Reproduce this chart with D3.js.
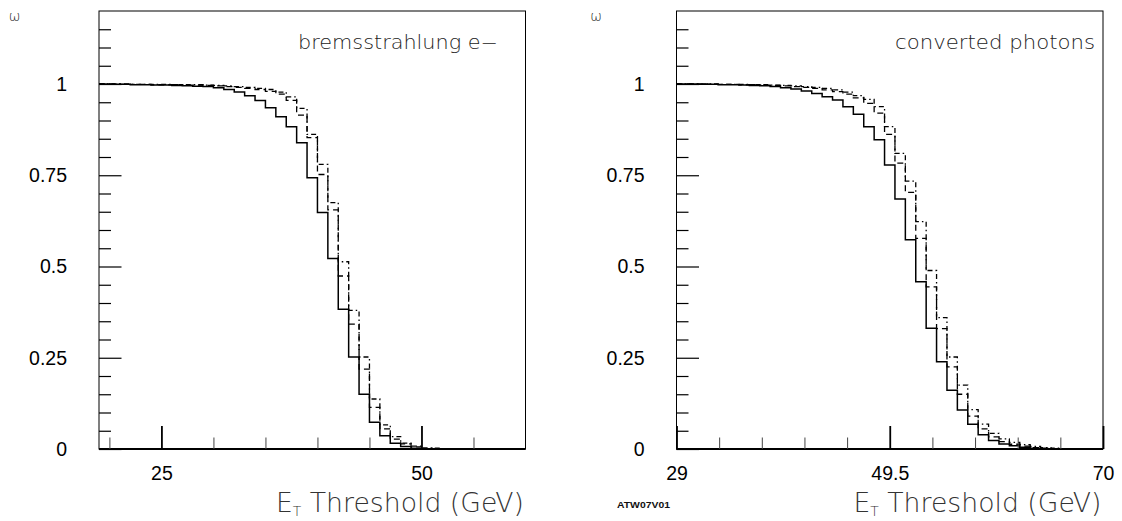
<!DOCTYPE html>
<html><head><meta charset="utf-8">
<script src="https://cdn.jsdelivr.net/npm/d3@7"></script>
<style>body{margin:0;background:#fff}svg{display:block}</style>
</head><body>
<svg id="chart" width="1122" height="521"></svg>
<script>
// ---------- data ----------
const leftBinStart = 19;            // GeV, bins of 1 GeV
const leftSolid = [1.000,0.999,0.999,0.998,0.998,0.997,0.997,0.996,0.995,0.994,0.993,0.990,
  0.985,0.978,0.968,0.955,0.935,0.910,0.883,0.839,0.743,0.648,0.522,0.383,0.252,0.150,0.073,0.036,0.016,0.007,0.002,
  0,0,0,0,0,0,0,0,0,0];
const leftDashed = [1.000,1.000,0.999,0.999,0.999,0.998,0.998,0.998,0.997,0.997,0.996,0.995,
  0.993,0.991,0.988,0.985,0.980,0.972,0.955,0.915,0.853,0.752,0.655,0.474,0.342,0.219,0.114,0.055,0.027,0.014,0.006,0.001,
  0,0,0,0,0,0,0,0,0];
const leftDashDot = [1.000,1.000,1.000,0.999,0.999,0.999,0.999,0.998,0.998,0.998,0.997,0.996,
  0.995,0.993,0.991,0.988,0.985,0.978,0.965,0.933,0.862,0.780,0.675,0.513,0.380,0.252,0.137,0.066,0.034,0.016,0.008,0.003,0.002,0.001,
  0,0,0,0,0,0,0];

const rightBinStart = 29;
const rightSolid = [1.000,1.000,0.999,0.999,0.998,0.998,0.997,0.996,0.995,0.993,
  0.990,0.986,0.981,0.974,0.965,0.956,0.938,0.917,0.883,0.847,0.778,0.685,0.573,0.458,0.331,0.239,0.161,0.107,0.068,0.039,0.023,0.014,0.009,0.005,0.002,0.001,0.001,
  0,0,0,0];
const rightDashed = [1.000,1.000,1.000,0.999,0.999,0.999,0.998,0.998,0.997,0.996,
  0.995,0.993,0.991,0.988,0.984,0.979,0.972,0.962,0.947,0.920,0.862,0.783,0.703,0.577,0.444,0.330,0.225,0.150,0.090,0.055,0.033,0.020,0.013,0.008,0.004,0.002,0.001,
  0,0,0,0];
const rightDashDot = [1.000,1.000,1.000,1.000,0.999,0.999,0.999,0.998,0.998,0.997,
  0.996,0.995,0.993,0.991,0.988,0.984,0.978,0.968,0.958,0.938,0.883,0.810,0.734,0.623,0.489,0.360,0.252,0.175,0.108,0.068,0.043,0.028,0.018,0.012,0.007,0.004,0.002,0.001,
  0,0,0];

const leftDomain = [19, 60];
const rightDomain = [29, 70];
const yDomain = [0, 1.2];
const leftMajorTicks = [25, 50];
const leftMajorLabels = ["25", "50"];
const leftMinorTicks = [20, 30, 35, 40, 45, 55];
const rightMajorTicks = [29, 49.5, 70];
const rightMajorLabels = ["29", "49.5", "70"];
const rightMinorTicks = [33.1, 37.2, 41.3, 45.4, 53.6, 57.7, 61.8, 65.9];
const yMajorTicks = [0, 0.25, 0.5, 0.75, 1];
const yMajorLabels = ["0", "0.25", "0.5", "0.75", "1"];
const yMinorTicks = [0.05,0.1,0.15,0.2,0.3,0.35,0.4,0.45,0.55,0.6,0.65,0.7,0.8,0.85,0.9,0.95,1.05,1.1,1.15];
const titles = ["bremsstrahlung e\u2212", "converted photons"];

// ---------- drawing ----------
const svg = d3.select("#chart");
const yTop = 11, yBottom = 449;
const y = d3.scaleLinear().domain(yDomain).range([yBottom, yTop]);

const panels = [
  {x0: 99, x1: 525.5, domain: leftDomain, start: leftBinStart, series: [leftSolid, leftDashed, leftDashDot],
   majors: leftMajorTicks, majorLabels: leftMajorLabels, minors: leftMinorTicks, title: titles[0],
   titleX: 298, titleW: 200, omegaX: 14.5},
  {x0: 676.5, x1: 1103, domain: rightDomain, start: rightBinStart, series: [rightSolid, rightDashed, rightDashDot],
   majors: rightMajorTicks, majorLabels: rightMajorLabels, minors: rightMinorTicks, title: titles[1],
   titleX: 895, titleW: 200, omegaX: 596}
];
const styles = [null, "6,4", "5,3,1.5,3"];

panels.forEach((p, pi) => {
  const x = d3.scaleLinear().domain(p.domain).range([p.x0, p.x1]);
  const g = svg.append("g");
  const clipId = "clip" + pi;
  svg.append("clipPath").attr("id", clipId).append("rect")
    .attr("x", p.x0).attr("y", yTop).attr("width", p.x1 - p.x0).attr("height", yBottom - yTop);

  // histograms
  const line = d3.line().x(d => x(d[0])).y(d => y(d[1])).curve(d3.curveStepAfter);
  p.series.forEach((vals, si) => {
    const pts = vals.map((v, i) => [p.start + i, v]);
    pts.push([p.start + vals.length, vals[vals.length - 1]]);
    g.append("path").attr("d", line(pts)).attr("fill", "none")
      .attr("stroke", "#000").attr("stroke-width", si === 0 ? 1.5 : 1.3)
      .attr("stroke-dasharray", styles[si]).attr("clip-path", `url(#${clipId})`);
  });

  // frame
  g.append("rect").attr("x", p.x0).attr("y", yTop).attr("width", p.x1 - p.x0).attr("height", yBottom - yTop)
    .attr("fill", "none").attr("stroke", "#000").attr("stroke-width", 1);
  g.append("line").attr("x1", p.x0).attr("x2", p.x1).attr("y1", yBottom).attr("y2", yBottom)
    .attr("stroke", "#000").attr("stroke-width", 2);

  // y axis
  const yMaj = g.append("g").attr("transform", `translate(${p.x0},0)`)
    .call(d3.axisLeft(y).tickValues(yMajorTicks).tickSize(-22.5).tickPadding(32)
      .tickFormat((d, i) => yMajorLabels[i]));
  const yMin = g.append("g").attr("transform", `translate(${p.x0},0)`)
    .call(d3.axisLeft(y).tickValues(yMinorTicks).tickSize(-12).tickFormat(""));
  [yMaj, yMin].forEach(a => { a.select(".domain").remove(); a.selectAll("line").attr("stroke", "#000").attr("stroke-width", 1.2); });
  yMaj.selectAll("text").attr("font-family", "Liberation Sans, Arial, sans-serif").attr("font-size", 19.5).attr("fill", "#000");

  // x axis
  const xMaj = g.append("g").attr("transform", `translate(0,${yBottom})`)
    .call(d3.axisBottom(x).tickValues(p.majors).tickSize(-23).tickPadding(17)
      .tickFormat((d, i) => p.majorLabels[i]));
  const xMin = g.append("g").attr("transform", `translate(0,${yBottom})`)
    .call(d3.axisBottom(x).tickValues(p.minors).tickSize(-11.5).tickFormat(""));
  [xMaj, xMin].forEach(a => a.select(".domain").remove());
  xMaj.selectAll("line").attr("stroke", "#000").attr("stroke-width", 1.8);
  xMin.selectAll("line").attr("stroke", "#444").attr("stroke-width", 1);
  xMaj.selectAll("text").attr("font-family", "Liberation Sans, Arial, sans-serif").attr("font-size", 19.5).attr("fill", "#000");

  // axis title
  const t = g.append("text").attr("x", p.x1 - 1.5).attr("y", 512).attr("text-anchor", "end")
    .attr("font-family", "DejaVu Sans, sans-serif").attr("font-weight", 200).attr("font-size", 27)
    .attr("fill", "#333").attr("textLength", 248).attr("lengthAdjust", "spacingAndGlyphs");
  t.append("tspan").text("E");
  t.append("tspan").attr("font-size", 14).attr("dy", 4).text("T");
  t.append("tspan").attr("dy", -4).text(" Threshold (GeV)");

  // panel label
  g.append("text").attr("x", p.titleX).attr("y", 49)
    .attr("font-family", "DejaVu Sans, sans-serif").attr("font-weight", 200).attr("font-size", 19)
    .attr("fill", "#222").attr("textLength", p.titleW).attr("lengthAdjust", "spacingAndGlyphs")
    .text(p.title);

  // omega
  g.append("text").attr("x", p.omegaX).attr("y", 21).attr("text-anchor", "middle")
    .attr("font-family", "DejaVu Sans, sans-serif").attr("font-weight", 200).attr("font-size", 14)
    .attr("fill", "#222").text("\u03c9");
});

svg.append("text").attr("x", 617).attr("y", 508)
  .attr("font-family", "Liberation Sans, Arial, sans-serif").attr("font-size", 9.5).attr("font-weight", "bold")
  .attr("textLength", 53).attr("lengthAdjust", "spacingAndGlyphs").attr("fill", "#111").text("ATW07V01");
</script>
</body></html>
